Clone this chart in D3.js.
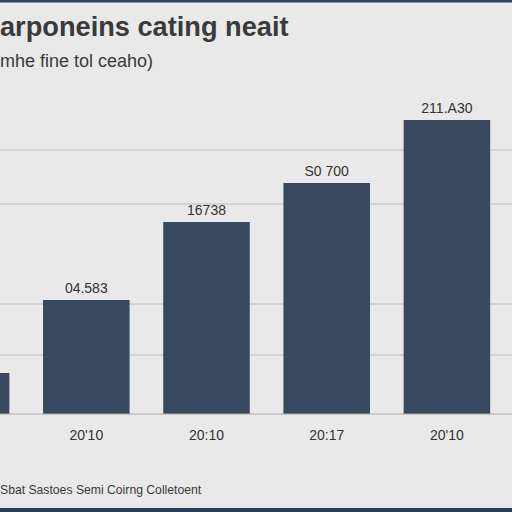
<!DOCTYPE html>
<html>
<head>
<meta charset="utf-8">
<script src="https://cdn.jsdelivr.net/npm/d3@7"></script>
<style>
  body { margin: 0; background: #e9e9e9; }
  svg { display: block; }
</style>
</head>
<body>
<div id="chart"></div>
<script>
// chart values
let categories = ["20'09", "20'10", "20:10", "20:17", "20'10"];
let values = [4.1, 11.4, 19.2, 23.1, 29.4];
let valueLabels = ["", "04.583", "16738", "S0 700", "211.A30"];
let gridValues = [5.9, 11, 21, 26.4];

let title = "arponeins cating neait";
let subtitle = "mhe fine tol ceaho)";
let footer = "Sbat Sastoes Semi Coirng Colletoent";

let width = 512;
let height = 512;
let baseY = 414;

let svg = d3.select("#chart")
    .append("svg")
    .attr("width", width)
    .attr("height", height)

svg.append("rect")
    .attr("width", width)
    .attr("height", height)
    .attr("fill", "#e9e9e9")

// dark strips top and bottom
svg.append("rect")
    .attr("width", width)
    .attr("height", 2.5)
    .attr("fill", "#34465e")
svg.append("rect")
    .attr("y", 508)
    .attr("width", width)
    .attr("height", 4)
    .attr("fill", "#2b3c5a")

let xScale = d3.scaleBand()
    .domain(d3.range(categories.length))
    .range([-94, 507])
    .paddingInner(0.28)
    .paddingOuter(0.14)

let yScale = d3.scaleLinear()
    .domain([0, 30])
    .range([baseY, 114])

let cx = i => xScale(i) + xScale.bandwidth() / 2

// gridlines
svg.selectAll("line.grid")
    .data(gridValues)
    .enter()
    .append("line")
    .attr("class", "grid")
    .attr("x1", 0)
    .attr("x2", width)
    .attr("y1", d => yScale(d))
    .attr("y2", d => yScale(d))
    .attr("stroke", "#bdbdbd")
    .attr("stroke-width", 1.2)

// bars
svg.selectAll("rect.bar")
    .data(values)
    .enter()
    .append("rect")
    .attr("class", "bar")
    .attr("x", (d, i) => xScale(i))
    .attr("width", xScale.bandwidth())
    .attr("y", d => yScale(d))
    .attr("height", d => baseY - yScale(d))
    .attr("fill", "#37485f")

// baseline
svg.append("line")
    .attr("x1", 0)
    .attr("x2", width)
    .attr("y1", baseY)
    .attr("y2", baseY)
    .attr("stroke", "#a9a9a9")
    .attr("stroke-width", 1.2)

// value labels
svg.selectAll("text.val")
    .data(values)
    .enter()
    .append("text")
    .attr("class", "val")
    .attr("x", (d, i) => cx(i))
    .attr("y", d => yScale(d) - 7)
    .attr("text-anchor", "middle")
    .attr("font-family", "Liberation Sans, Arial, sans-serif")
    .attr("font-size", 14)
    .attr("fill", "#333")
    .text((d, i) => valueLabels[i])

// category labels, skipping the one whose bar sits off the left edge
let shownCats = categories
    .map((name, i) => ({name: name, i: i}))
    .filter(d => cx(d.i) > 0)

svg.selectAll("text.cat")
    .data(shownCats)
    .enter()
    .append("text")
    .attr("class", "cat")
    .attr("x", d => cx(d.i))
    .attr("y", 440)
    .attr("text-anchor", "middle")
    .attr("font-family", "Liberation Sans, Arial, sans-serif")
    .attr("font-size", 14)
    .attr("fill", "#333")
    .text(d => d.name)

// titles
svg.append("text")
    .attr("x", 0)
    .attr("y", 36)
    .attr("font-family", "Liberation Sans, Arial, sans-serif")
    .attr("font-weight", "bold")
    .attr("font-size", 27.2)
    .attr("fill", "#3a3a3a")
    .text(title)

svg.append("text")
    .attr("x", 0)
    .attr("y", 67)
    .attr("font-family", "Liberation Sans, Arial, sans-serif")
    .attr("font-size", 18)
    .attr("fill", "#3a3a3a")
    .text(subtitle)

svg.append("text")
    .attr("x", 0)
    .attr("y", 494)
    .attr("font-family", "Liberation Sans, Arial, sans-serif")
    .attr("font-size", 12.2)
    .attr("fill", "#3a3a3a")
    .text(footer)
</script>
</body>
</html>
